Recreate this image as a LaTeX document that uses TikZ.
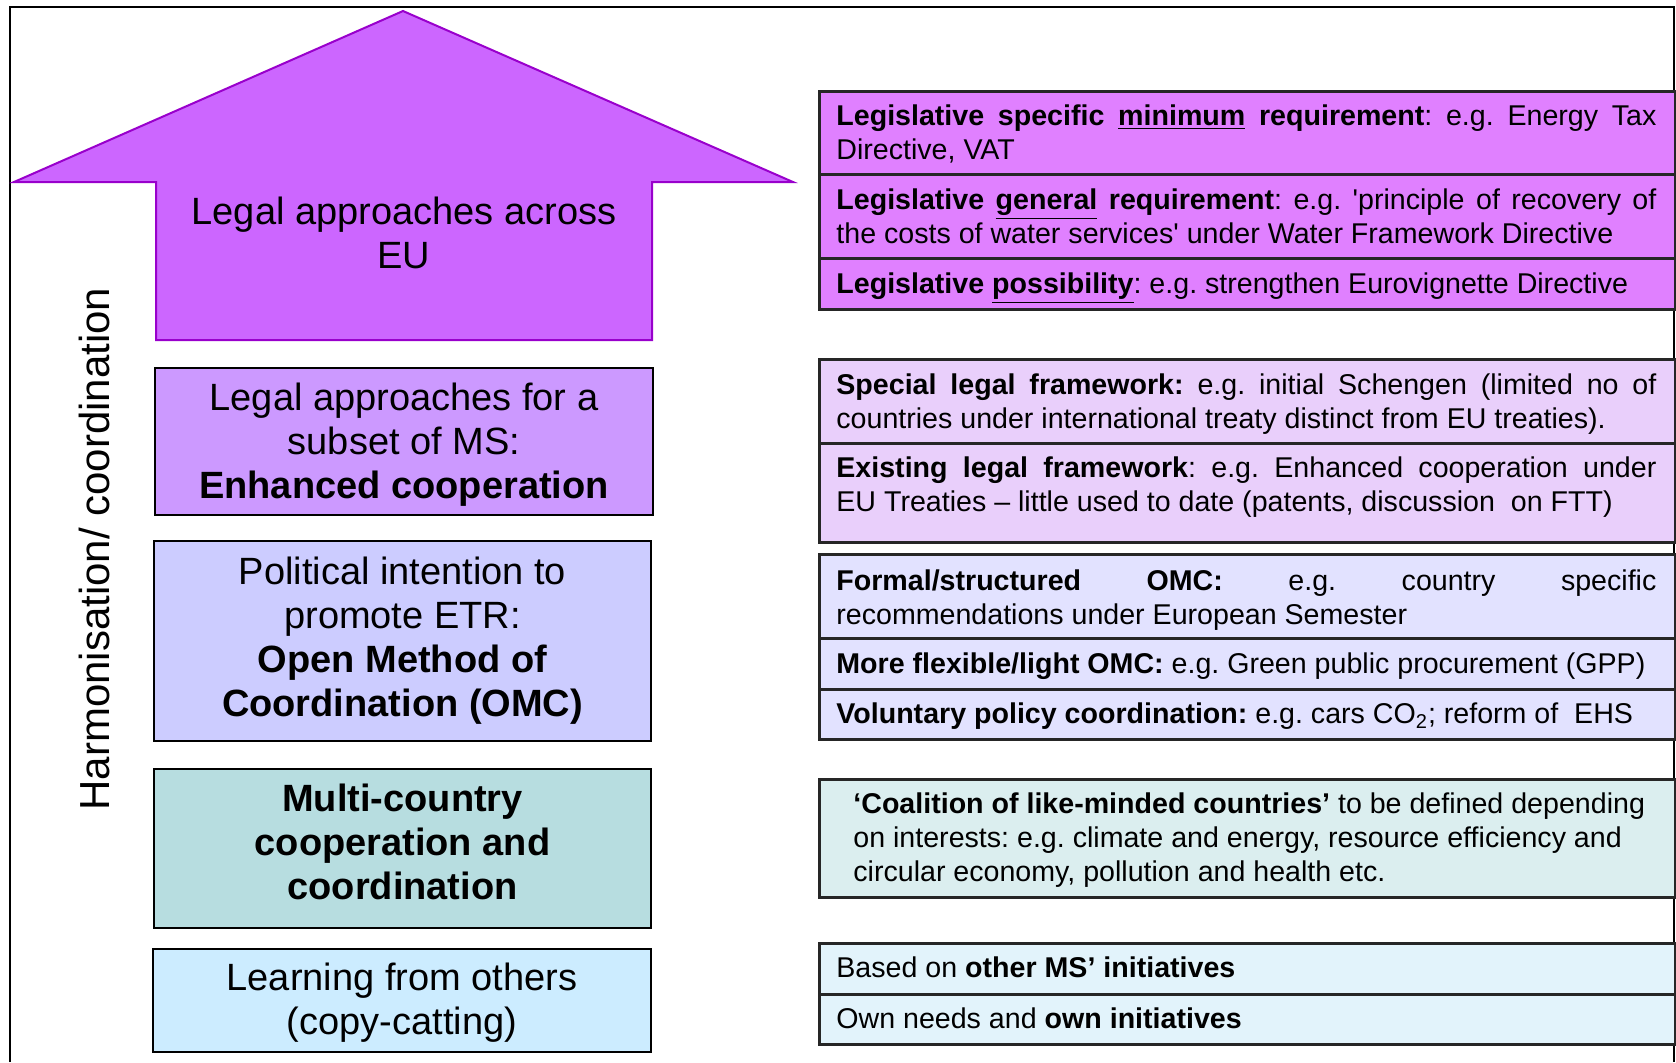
\documentclass[tikz,border=0pt]{standalone}
\usepackage{fontspec}
\setmainfont{Liberation Sans}
\definecolor{arrowfill}{HTML}{CC66FF}
\definecolor{arrowline}{HTML}{9900CC}
\definecolor{enhfill}{HTML}{CC99FF}
\definecolor{omcfill}{HTML}{CCCCFF}
\definecolor{multifill}{HTML}{B7DDE0}
\definecolor{learnfill}{HTML}{CCECFF}
\definecolor{rowA}{HTML}{E080FF}
\definecolor{rowB}{HTML}{E9CFFB}
\definecolor{rowC}{HTML}{E2E2FF}
\definecolor{rowD}{HTML}{DBEEEF}
\definecolor{rowE}{HTML}{E2F3FB}
\newcommand\lefttxt{\fontsize{19}{22}\selectfont}
\newcommand\righttxt{\fontsize{14.3}{17}\selectfont}
\newcommand\spreadline[1]{\makebox[410pt][s]{#1}}
\frenchspacing
\begin{document}
\begin{tikzpicture}[x=0.5pt,y=-0.5pt,
  lbox/.style={draw=black, line width=1pt, inner sep=0pt},
  ltext/.style={align=center, font=\lefttxt, inner sep=0pt},
  rowbox/.style={draw=black!85, line width=1.25pt, minimum width=428pt, inner sep=0pt, anchor=north west},
  rtext/.style={anchor=north west, inner sep=0pt, text width=410pt, align=left, font=\righttxt,
    execute at begin node={\spaceskip=0pt\xspaceskip=0pt\frenchspacing}}]
\useasboundingbox (0,0) rectangle (1676,1062);

% outer frame (open at the bottom)
\draw[line width=1pt] (10,1062) -- (10,7) -- (1674,7) -- (1674,1062);

% big arrow
\draw[fill=arrowfill, draw=arrowline, line width=1pt]
  (403,11) -- (793,182) -- (652,182) -- (652,340) -- (156,340) -- (156,182) -- (14,182) -- cycle;
\node[ltext] (eu) at (404,233) {Legal approaches across\\EU};

% vertical axis label
\node[rotate=90, font=\fontsize{21}{24}\selectfont, inner sep=0pt] (axis) at (94,549) {Harmonisation/ coordination};

% left column: boxes
\node[lbox, fill=enhfill, minimum width=249pt, minimum height=73.5pt] (enh) at (404,441.5) {};
\node[lbox, fill=omcfill, minimum width=248.5pt, minimum height=100pt] (omc) at (402.5,641) {};
\node[lbox, fill=multifill, minimum width=248.5pt, minimum height=79.5pt] (multi) at (402.5,848.5) {};
\node[lbox, fill=learnfill, minimum width=249pt, minimum height=51.5pt] (learn) at (402,1000.5) {};

% left column: texts
\node[ltext] (enhtxt) at (404,444.5) {Legal approaches for a\\subset of MS:\\\textbf{Enhanced cooperation}};
\node[ltext] (omctxt) at (402.5,641) {Political intention to\\promote ETR:\\\textbf{Open Method of}\\\textbf{Coordination (OMC)}};
\node[ltext] (multitxt) at (402.5,842) {\textbf{Multi-country}\\\textbf{cooperation and}\\\textbf{coordination}};
\node[ltext] (learntxt) at (402,1003) {Learning from others\\(copy-catting)};

% right column: boxes
\node[rowbox, fill=rowA, minimum height=41.5pt] (a1) at (818,90) {};
\node[rowbox, fill=rowA, minimum height=42pt] (a2) at (818,173) {};
\node[rowbox, fill=rowA, minimum height=25.5pt] (a3) at (818,257) {};
\node[rowbox, fill=rowB, minimum height=42pt] (b1) at (818,358) {};
\node[rowbox, fill=rowB, minimum height=49.5pt] (b2) at (818,442) {};
\node[rowbox, fill=rowC, minimum height=42pt] (c1) at (818,553) {};
\node[rowbox, fill=rowC, minimum height=25.5pt] (c2) at (818,637) {};
\node[rowbox, fill=rowC, minimum height=25pt] (c3) at (818,688) {};
\node[rowbox, fill=rowD, minimum height=59pt] (d1) at (818,778) {};
\node[rowbox, fill=rowE, minimum height=25.5pt] (e1) at (818,942) {};
\node[rowbox, fill=rowE, minimum height=25pt] (e2) at (818,993) {};

% right column: texts
\node[rtext] (ta1) at (836,101) {\strut\spreadline{\textbf{Legislative specific \underline{minimum} requirement}: e.g. Energy Tax}\\Directive, VAT};
\node[rtext] (ta2) at (836,185) {\strut\spreadline{\textbf{Legislative \underline{general} requirement}: e.g. \textquotesingle principle of recovery of}\\the costs of water services\textquotesingle{} under Water Framework Directive};
\node[rtext] (ta3) at (836,269.5) {\strut\textbf{Legislative \underline{possibility}}: e.g. strengthen Eurovignette Directive};
\node[rtext] (tb1) at (836,370) {\strut\spreadline{\textbf{Special legal framework:} e.g. initial Schengen (limited no of}\\countries under international treaty distinct from EU treaties).};
\node[rtext] (tb2) at (836,453.5) {\strut\spreadline{\textbf{Existing legal framework}: e.g. Enhanced cooperation under}\\EU Treaties -- little used to date (patents, discussion~ on FTT)};
\node[rtext] (tc1) at (836,566) {\strut\spreadline{\textbf{Formal/structured OMC:} e.g. country specific}\\recommendations under European Semester};
\node[rtext] (tc2) at (836,649.5) {\strut\textbf{More flexible/light OMC:} e.g. Green public procurement (GPP)};
\node[rtext] (tc3) at (836,699.5) {\strut\textbf{Voluntary policy coordination:} e.g. cars CO\textsubscript{2}; reform of~ EHS};
\node[rtext, text width=402pt] (td1) at (853,789.5) {\strut\textbf{`Coalition of like-minded countries'} to be defined depending\\on interests: e.g. climate and energy, resource efficiency and\\circular economy, pollution and health etc.};
\node[rtext] (te1) at (836,953.5) {\strut Based on \textbf{other MS' initiatives}};
\node[rtext] (te2) at (836,1004) {\strut Own needs and \textbf{own initiatives}};
\end{tikzpicture}
\end{document}
